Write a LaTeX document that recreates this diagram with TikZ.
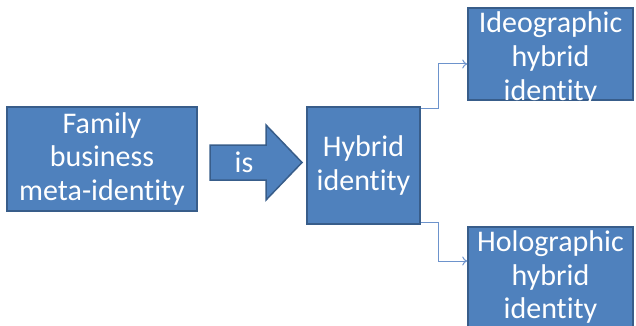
\documentclass[tikz,border=0pt]{standalone}
\usepackage{fontspec}
\setmainfont{Carlito}[RawFeature={-liga;-calt;-clig}]
\usetikzlibrary{arrows.meta}
\definecolor{boxfill}{HTML}{4F81BD}
\definecolor{boxline}{HTML}{385D8A}
\definecolor{conn}{HTML}{6D93CC}
\tikzset{
  blue box/.style={draw=boxline, line width=1.5pt, fill=boxfill, text=white,
    align=center, inner sep=0pt,
    font=\fontsize{30}{33.5}\selectfont},
  elbow/.style={draw=conn, line width=1pt, -{To[length=5pt,width=9pt]}},
}
\begin{document}
\begin{tikzpicture}[x=1pt,y=-1pt]
\useasboundingbox (0,0) rectangle (636,326);
\node[blue box, minimum width=190pt, minimum height=104pt] (fam) at (102,159) {Family\\business\\meta-identity};
\draw[draw=boxline, line width=1.5pt, fill=boxfill]
  (210,145) -- (266,145) -- (266,125) -- (302,162.5) -- (266,200) -- (266,180) -- (210,180) -- cycle;
\node[text=white, font=\fontsize{30}{33.5}\selectfont, inner sep=0pt] (is) at (244,162) {is};
\node[blue box, minimum width=113pt, minimum height=117pt] (hyb) at (363.5,165.5) {Hybrid\\identity};
\node[blue box, minimum width=165pt, minimum height=92pt] (ideo) at (550.5,54) {};
\node[text=white, align=center, inner sep=0pt, font=\fontsize{30}{34}\selectfont] (ideotext) at (550.5,59) {Ideographic\\hybrid\\identity};
\node[blue box, minimum width=165pt, minimum height=100pt] (holo) at (550.5,277) {Holographic\\hybrid\\identity};
\coordinate (up) at (438,64);
\coordinate (dn) at (438,261);
\draw[elbow] ([yshift=-2pt]hyb.north east) -| (up) -- (ideo.west |- up);
\draw[elbow] ([yshift=2pt]hyb.south east) -| (dn) -- (holo.west |- dn);
\end{tikzpicture}
\end{document}
